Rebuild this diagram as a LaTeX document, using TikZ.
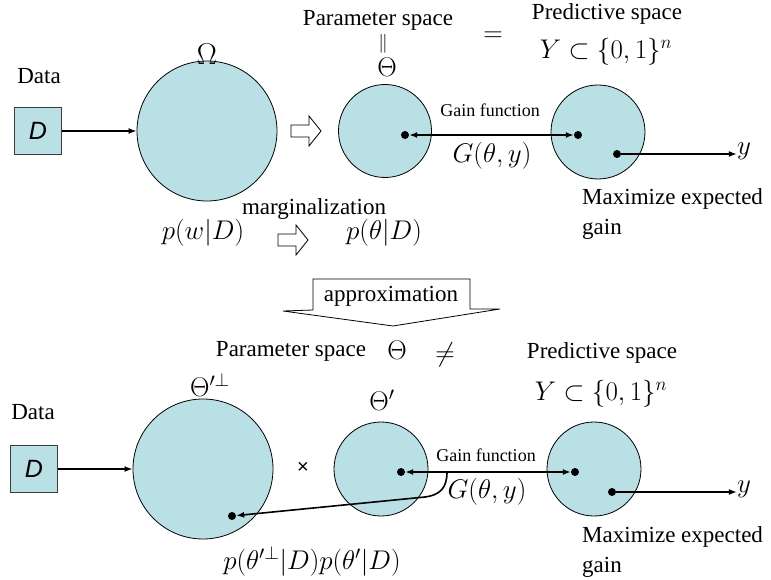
\RequirePackage{fix-cm}
\documentclass[tikz,border=0pt]{standalone}
\usepackage[no-math]{fontspec}
\setmainfont{Liberation Serif}
\newfontfamily\arialfont{Liberation Sans}
\usetikzlibrary{arrows.meta,positioning}
\definecolor{BlobCyan}{RGB}{185,224,228}
\definecolor{BlobEdge}{RGB}{60,60,60}

\tikzset{
  blob/.style={circle,draw=black,fill=BlobCyan,line width=0.8pt,inner sep=0pt},
  databox/.style={draw=BlobEdge,fill=BlobCyan,line width=1pt,minimum size=47pt,inner sep=0pt,font=\arialfont\itshape\fontsize{25}{25}\selectfont},
  txt/.style={font=\fontsize{23}{30}\selectfont,inner sep=0pt},
  smalltxt/.style={font=\fontsize{18}{20}\selectfont,inner sep=0pt},
  mth/.style={font=\fontsize{27}{29}\selectfont,inner sep=0pt},
  dot/.style={circle,fill=black,minimum size=8pt,inner sep=0pt},
  link/.style={->,line width=1.6pt},
  hollowarr/.pic={\draw[line width=0.8pt,fill=white] (-15,-6) -- (3,-6) -- (3,-15) -- (15,0) -- (3,15) -- (3,6) -- (-15,6) -- cycle;}
}

\begin{document}
\begin{tikzpicture}[x=1pt,y=-1pt,>={Latex[length=8pt,width=6pt]}]
\useasboundingbox (0,0) rectangle (771,580);

% top row: exact marginalization
\node[txt] (data1) at (39,76) {Data};
\node[databox] (d1) at (38,131) {D};
\node[blob,minimum size=140pt] (omega) at (207,131) {};
\node[mth,font=\fontsize{30}{30}\selectfont] (omegalab) at (207,54) {$\Omega$};
\draw[link] (d1) -- (omega);
\pic at (306,131) {hollowarr};
\node[txt] (param1) at (378,20) {Parameter space};
\node[font=\fontsize{19}{19}\selectfont,inner sep=0pt] (par1) at (383,44) {$\|$};
\node[mth] (thetalab) at (387,67) {$\Theta$};
\node[blob,minimum size=93pt] (theta) at (385,131) {};
\node[mth] (eq1) at (493,37) {$=$};
\node[txt] (pred1) at (607,14) {Predictive space};
\node[mth] (ysp1) at (606,52) {$Y\subset\{0,1\}^n$};
\node[blob,minimum size=94pt] (predc1) at (598,132) {};
\node[dot] (g1a) at (405,135) {};
\node[dot] (g1b) at (578,135) {};
\draw[<->,line width=1.6pt] (g1a) -- (g1b);
\node[smalltxt] (gain1) at (490,110) {Gain function};
\node[mth] (gfun1) at (492,156) {$G(\theta,y)$};
\node[dot] (y1dot) at (617,154) {};
\node[mth] (y1) at (744,151) {$y$};
\draw[link] (y1dot) -- (y1dot -| y1.west);
\node[txt,align=left,anchor=north west] (max1) at (582,188) {Maximize expected\\gain};
\node[txt] (marg) at (314,209) {marginalization};
\node[mth] (pw) at (203,233) {$p(w|D)$};
\pic at (293,240) {hollowarr};
\node[mth] (ptheta) at (384,233) {$p(\theta|D)$};

% approximation callout
\draw[line width=0.8pt,fill=white] (313,310) -- (313,279) -- (470,279) -- (470,309)
  -- (500,309) -- (393,326) -- (283,311) -- cycle;
\node[txt] (approx) at (391,296) {approximation};

% bottom row: factorised approximation
\node[txt] (param2) at (291,351) {Parameter space};
\node[mth] (theta2lab) at (397,350) {$\Theta$};
\node[mth] (neq) at (445,355) {$\neq$};
\node[txt] (pred2) at (602,353) {Predictive space};
\node[mth] (ysp2) at (601,394) {$Y\subset\{0,1\}^n$};
\node[txt] (data2) at (33,412) {Data};
\node[databox] (d2) at (34,469) {D};
\node[blob,minimum size=140pt] (perp) at (203,469) {};
\node[mth] (perplab) at (210,385) {$\Theta'^{\perp}$};
\draw[link] (d2) -- (perp);
\node[font=\arialfont\fontsize{20}{20}\selectfont,inner sep=0pt] (times) at (303,468) {×};
\node[blob,minimum size=94pt] (thp) at (381,469) {};
\node[mth] (thplab) at (382,400) {$\Theta'$};
\node[blob,minimum size=94pt] (predc2) at (594,469) {};
\node[dot] (g2a) at (401,472) {};
\node[dot] (g2b) at (575,472) {};
\draw[<->,line width=1.6pt] (g2a) -- (g2b);
\node[smalltxt] (gain2) at (486,455) {Gain function};
\node[mth] (gfun2) at (487,492) {$G(\theta,y)$};
\coordinate (bendstart) at (447,472);
\node[dot] (pdot) at (232,516) {};
\draw[link] (bendstart) .. controls (447,488) and (440,495) .. (425,497) -- (pdot);
\node[dot] (y2dot) at (612,492) {};
\node[mth] (y2) at (744,489) {$y$};
\draw[link] (y2dot) -- (y2dot -| y2.west);
\node[txt,align=left,anchor=north west] (max2) at (582,526) {Maximize expected\\gain};
\node[mth] (pprod) at (312,561) {$p(\theta'^{\perp}|D)p(\theta'|D)$};
\end{tikzpicture}
\end{document}
